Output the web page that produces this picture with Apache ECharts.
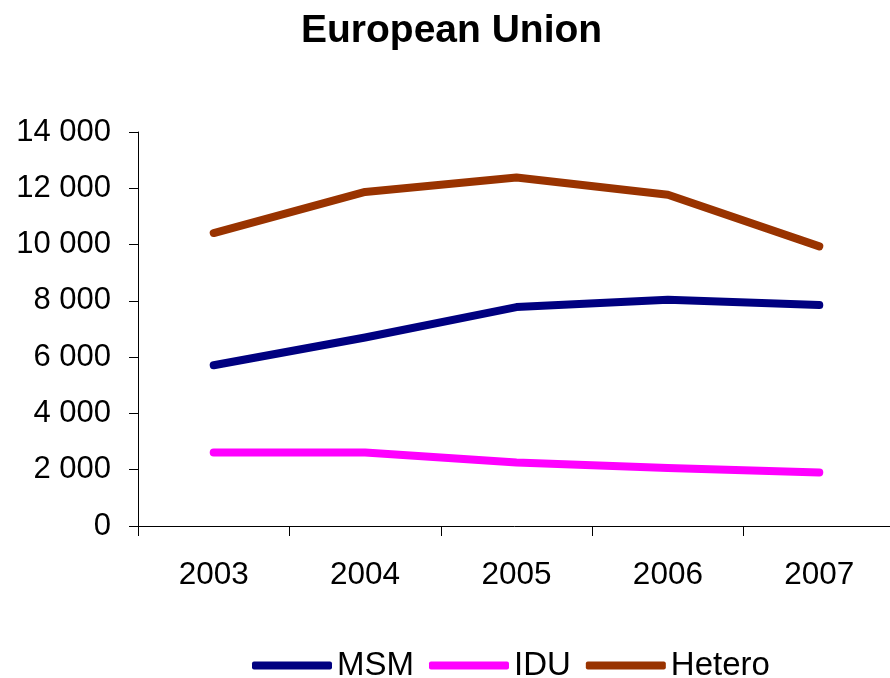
<!DOCTYPE html>
<html>
<head>
<meta charset="utf-8">
<script src="https://cdn.jsdelivr.net/npm/echarts@6/dist/echarts.min.js"></script>
<style>html,body{margin:0;padding:0;background:#fff}#c{width:890px;height:678px}</style>
</head>
<body>
<div id="c"></div>
<script>
const years = ['2003', '2004', '2005', '2006', '2007'];
const msm = [5710, 6700, 7780, 8040, 7850];
const idu = [2615, 2610, 2260, 2060, 1905];
const hetero = [10410, 11870, 12380, 11770, 9935];
const yTicks = [0, 2000, 4000, 6000, 8000, 10000, 12000, 14000];

const font = '"Liberation Sans", Arial, sans-serif';
const chart = echarts.init(document.getElementById('c'), null, {renderer: 'canvas'});
function fmt(v) { return String(v).replace(/\B(?=(\d{3})+(?!\d))/g, ' '); }
function series(name, data, color) {
  return {
    name: name, type: 'line', data: data, symbol: 'none',
    lineStyle: {width: 8, color: color, cap: 'round', join: 'round'},
    itemStyle: {color: color}
  };
}
chart.setOption({
  animation: false,
  title: {
    text: 'European Union', left: 296, top: 7,
    textStyle: {fontFamily: font, fontSize: 39, fontWeight: 'bold', color: '#000'}
  },
  legend: {
    top: 644, left: 247, itemWidth: 80, itemHeight: 8, itemGap: 15,
    icon: 'roundRect',
    textStyle: {fontFamily: font, fontSize: 33, color: '#000'},
    data: ['MSM', 'IDU', 'Hetero']
  },
  grid: {left: 138, width: 757, top: 132, height: 394, containLabel: false, outerBoundsMode: 'none'},
  xAxis: {
    type: 'category', data: years, boundaryGap: true,
    axisLine: {lineStyle: {color: '#000', width: 1}},
    axisTick: {show: true, length: 10, lineStyle: {color: '#000'}},
    axisLabel: {fontFamily: font, fontSize: 31.5, color: '#000', margin: 33}
  },
  yAxis: {
    type: 'value', min: yTicks[0], max: yTicks[yTicks.length - 1], interval: 2000,
    axisLine: {show: true, lineStyle: {color: '#000', width: 1}},
    axisTick: {show: true, length: 9, lineStyle: {color: '#000'}},
    splitLine: {show: false},
    axisLabel: {fontFamily: font, fontSize: 31, color: '#000', margin: 27, formatter: fmt}
  },
  series: [
    series('MSM', msm, '#000080'),
    series('IDU', idu, '#ff00ff'),
    series('Hetero', hetero, '#993300')
  ]
});
</script>
</body>
</html>
